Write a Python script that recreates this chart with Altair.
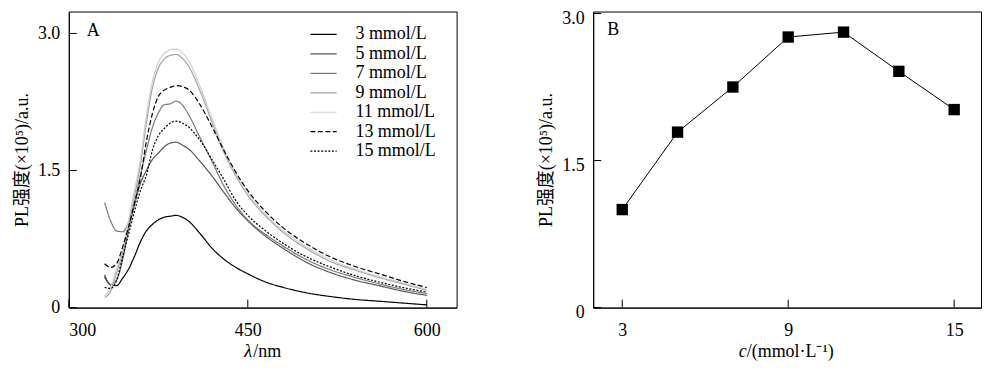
import altair as alt
import pandas as pd

# ---------------- data ----------------
wavelength = [330, 335, 340, 345, 350, 355, 360, 365, 370, 375, 380, 385, 390, 395,
              400, 410, 420, 430, 440, 450, 465, 480, 500, 520, 540, 560, 580, 600]
pl_3 = [0.34, 0.25, 0.24, 0.32, 0.42, 0.56, 0.72, 0.84, 0.91, 0.96, 0.99, 1.00, 1.01, 0.99,
        0.95, 0.81, 0.65, 0.53, 0.44, 0.37, 0.28, 0.22, 0.16, 0.12, 0.09, 0.07, 0.05, 0.03]
pl_5 = [0.36, 0.25, 0.30, 0.52, 0.85, 1.12, 1.36, 1.50, 1.62, 1.69, 1.76, 1.80, 1.81, 1.78,
        1.74, 1.60, 1.44, 1.26, 1.09, 0.95, 0.78, 0.645, 0.49, 0.38, 0.30, 0.24, 0.18, 0.135]
pl_7 = [1.15, 0.95, 0.84, 0.83, 0.93, 1.15, 1.45, 1.72, 1.97, 2.13, 2.22, 2.23, 2.26, 2.22,
        2.12, 1.86, 1.60, 1.33, 1.12, 0.96, 0.80, 0.67, 0.52, 0.41, 0.33, 0.26, 0.20, 0.155]
pl_9 = [0.11, 0.18, 0.38, 0.60, 0.90, 1.22, 1.56, 2.02, 2.40, 2.62, 2.72, 2.76, 2.77, 2.73,
        2.65, 2.37, 2.03, 1.70, 1.44, 1.23, 1.00, 0.82, 0.64, 0.50, 0.41, 0.33, 0.26, 0.19]
pl_11 = [0.13, 0.22, 0.42, 0.64, 0.95, 1.28, 1.62, 2.10, 2.47, 2.68, 2.78, 2.82, 2.83, 2.79,
         2.71, 2.42, 2.07, 1.74, 1.47, 1.26, 1.02, 0.84, 0.66, 0.52, 0.42, 0.34, 0.27, 0.20]
pl_13 = [0.48, 0.44, 0.48, 0.66, 0.88, 1.14, 1.42, 1.82, 2.12, 2.31, 2.38, 2.41, 2.43, 2.42,
         2.39, 2.22, 1.98, 1.72, 1.48, 1.28, 1.05, 0.87, 0.69, 0.55, 0.45, 0.37, 0.29, 0.22]
pl_15 = [0.22, 0.21, 0.30, 0.55, 0.80, 1.05, 1.28, 1.45, 1.72, 1.88, 1.96, 2.02, 2.04, 2.02,
         1.98, 1.83, 1.62, 1.40, 1.17, 1.01, 0.84, 0.70, 0.55, 0.44, 0.35, 0.28, 0.22, 0.17]

series_names = ["3 mmol/L", "5 mmol/L", "7 mmol/L", "9 mmol/L",
                "11 mmol/L", "13 mmol/L", "15 mmol/L"]
series_values = [pl_3, pl_5, pl_7, pl_9, pl_11, pl_13, pl_15]
series_colors = ["#000000", "#555555", "#7a7a7a", "#a3a3a3", "#cfcfcf", "#000000", "#000000"]
series_dashes = [[1, 0], [1, 0], [1, 0], [1, 0], [1, 0], [5, 2.5], [2, 1.6]]

conc = [3, 5, 7, 9, 11, 13, 15]
peak_pl = [1.00, 1.79, 2.25, 2.76, 2.81, 2.41, 2.02]

ticks_a_x = [300, 450, 600]
ticks_a_y = [0, 1.5, 3.0]
ticks_b_x = [3, 9, 15]
ticks_b_y = [0, 1.5, 3.0]

# ---------------- styling ----------------
FONT = "'Liberation Serif', 'Noto Sans CJK SC', serif"
W, H = 389, 297
TICK = 8
YTITLE = "PL强度(×10⁵)/a.u."
TITLE_Y = 342

rows = []
for name, vals in zip(series_names, series_values):
    for lam, v in zip(wavelength, vals):
        rows.append({"series": name, "lam": lam, "pl": v})
df_a = pd.DataFrame(rows)
df_b = pd.DataFrame({"c": conc, "pl": peak_pl})

label_expr = "datum.value == 0 ? '0' : format(datum.value, '.1f')"


def text_piece(txt, x, y, italic=False, align="left"):
    return alt.Chart(pd.DataFrame({"t": [txt]})).mark_text(
        font=FONT, fontSize=18, align=align, baseline="middle", color="black",
        fontStyle="italic" if italic else "normal"
    ).encode(text="t:N", x=alt.value(x), y=alt.value(y))


xa = alt.X("lam:Q", scale=alt.Scale(domain=[300, 625], nice=False, zero=False),
           axis=alt.Axis(values=ticks_a_x, title=None))
ya = alt.Y("pl:Q", scale=alt.Scale(domain=[0, 3.24], nice=False),
           axis=alt.Axis(values=ticks_a_y, title=YTITLE, labelExpr=label_expr))

legend = alt.Legend(title=None, orient="none", legendX=236 + 10.5, legendY=14,
                    symbolType="M-2.4,0H2.4", symbolSize=121, symbolStrokeWidth=1.2,
                    symbolFillColor="transparent",
                    labelFont=FONT, labelFontSize=18, labelColor="black",
                    rowPadding=1.5, labelOffset=23, padding=0)

lines = alt.Chart(df_a).mark_line(strokeWidth=1.2, interpolate="monotone").encode(
    x=xa, y=ya,
    color=alt.Color("series:N", sort=series_names,
                    scale=alt.Scale(domain=series_names, range=series_colors), legend=legend),
    strokeDash=alt.StrokeDash("series:N", sort=series_names,
                              scale=alt.Scale(domain=series_names, range=series_dashes),
                              legend=legend),
)

tick_ax = alt.Chart(pd.DataFrame({"lam": ticks_a_x})).mark_rule(color="black").encode(
    x=xa, y=alt.value(H), y2=alt.value(H - TICK))
tick_ay = alt.Chart(pd.DataFrame({"pl": ticks_a_y})).mark_rule(color="black").encode(
    y=ya, x=alt.value(0), x2=alt.value(TICK))

panel_a = alt.layer(
    lines, tick_ax, tick_ay,
    text_piece("A", 18, 20),
    text_piece("λ", 176, TITLE_Y, italic=True),
    text_piece("/nm", 185, TITLE_Y),
).properties(width=W, height=H)

xb = alt.X("c:Q", scale=alt.Scale(domain=[1.95, 15.97], nice=False, zero=False),
           axis=alt.Axis(values=ticks_b_x, title=None))
yb = alt.Y("pl:Q", scale=alt.Scale(domain=[0, 3.02], nice=False),
           axis=alt.Axis(values=ticks_b_y, title=YTITLE, labelExpr=label_expr,
                         labelOffset=5))

b_line = alt.Chart(df_b).mark_line(color="black", strokeWidth=1).encode(x=xb, y=yb)
b_pts = alt.Chart(df_b).mark_point(shape="square", filled=True, color="black",
                                   size=130, opacity=1).encode(x=xb, y=yb)
tick_bx = alt.Chart(pd.DataFrame({"c": ticks_b_x})).mark_rule(color="black").encode(
    x=xb, y=alt.value(H), y2=alt.value(H - TICK))
tick_by = alt.Chart(pd.DataFrame({"pl": ticks_b_y})).mark_rule(color="black").encode(
    y=yb, x=alt.value(0), x2=alt.value(TICK))

panel_b = alt.layer(
    b_line, b_pts, tick_bx, tick_by,
    text_piece("B", 14, 19),
    text_piece("c", 146, TITLE_Y, italic=True),
    text_piece("/(mmol·L⁻¹)", 154, TITLE_Y),
).properties(width=W, height=H)

chart = alt.hconcat(panel_a, panel_b, spacing=80).properties(
    padding={"left": 5, "top": 0, "right": 0, "bottom": 0}
).configure(font=FONT, background="white").configure_view(
    stroke="black", strokeWidth=1
).configure_axis(
    grid=False, ticks=False, domain=True, domainColor="black", domainWidth=1,
    labelFont=FONT, labelFontSize=18, labelColor="black",
    titleFont=FONT, titleFontSize=18, titleColor="black", titleFontWeight="normal",
    labelPadding=9,
).configure_axisY(titlePadding=6).configure_axisX(labelPadding=14)

chart.save("out.html", embed_options={"renderer": "svg", "actions": False})
